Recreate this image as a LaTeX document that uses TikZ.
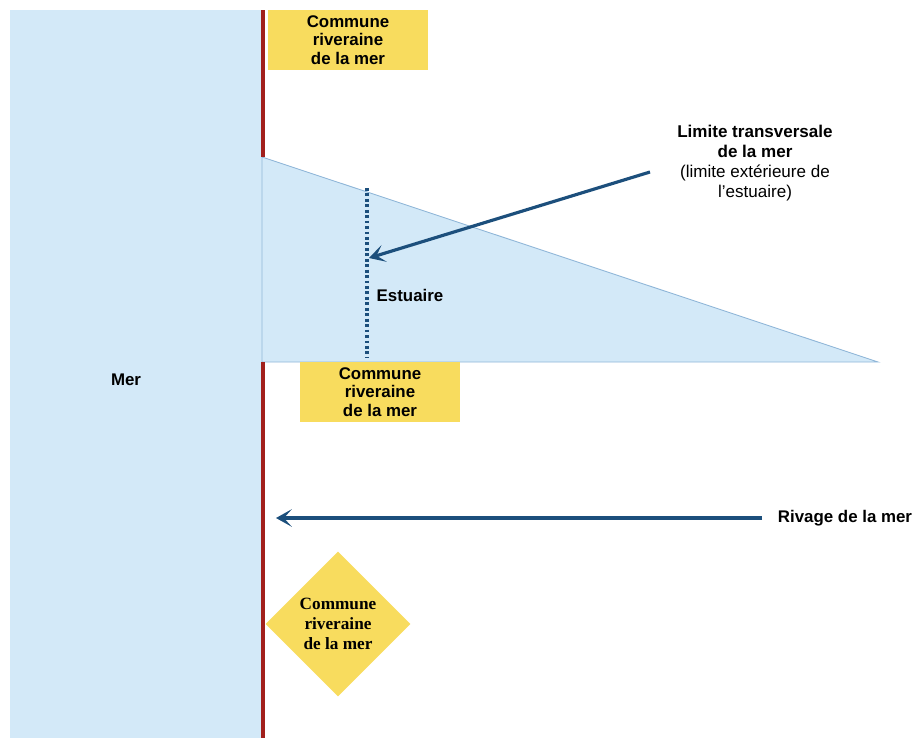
\documentclass[tikz,border=0pt]{standalone}
\usepackage{fontspec}
\setmainfont{Liberation Sans}
\newfontfamily\diamfont{Liberation Serif}
\usetikzlibrary{shapes.geometric,arrows.meta}
\definecolor{mer}{HTML}{D3E9F8}
\definecolor{bord}{HTML}{8FB6D8}
\definecolor{rive}{HTML}{A1201C}
\definecolor{jaune}{HTML}{F8DC5E}
\definecolor{fleche}{HTML}{1C4F7C}

\begin{document}
\begin{tikzpicture}
[x=0.02cm,y=-0.02cm]
\tikzset{box/.style={fill=jaune,align=center,inner sep=0,minimum width=3.2cm,minimum height=1.2cm,font=\bfseries\fontsize{9.6}{10.5}\selectfont}}
\tikzset{diam/.style={diamond,fill=jaune,align=center,inner sep=0,minimum width=2.9cm,minimum height=2.9cm,font=\diamfont\bfseries\fontsize{9.8}{11.3}\selectfont}}
\tikzset{lbl/.style={align=center,font=\fontsize{9.7}{11.4}\selectfont}}
\tikzset{fl/.style={fleche,line width=1.8pt,-{Stealth[length=9pt,width=10pt,inset=4.5pt]}}}
\useasboundingbox (0,0) rectangle (917,738);

% mer et estuaire
\fill [mer] (10,10) rectangle (262,738);
\filldraw [fill=mer,draw=bord,line width=0.5pt] (262,157) -- (878,362) -- (262,362) -- cycle;

% rivage
\draw [rive,line width=2.3pt] (263,10) -- (263,157);
\draw [rive,line width=2.3pt] (263,362) -- (263,738);

% limite transversale
\coordinate (d1) at (367,188);
\coordinate (d2) at (367,358);
\coordinate (lim) at (369,258);
\draw [fleche,line width=2.2pt,dash pattern=on 1.6pt off 1.5pt] (d1) -- (d2);

\node [box] (c1) at (348,40) {Commune\\riveraine\\de la mer};
\node [box] (c2) at (380,392) {Commune\\riveraine\\de la mer};
\node [diam] (c3) at (338,624) {Commune\\riveraine\\de la mer};

\node [lbl,font=\bfseries\fontsize{9.6}{11}\selectfont] (m) at (126,380) {Mer};
\node [lbl,font=\bfseries\fontsize{9.6}{11}\selectfont] (e) at (410,295) {Estuaire};
\node [lbl] (l) at (755,163) {\textbf{Limite transversale}\\\textbf{de la mer}\\(limite extérieure de\\l’estuaire)};
\node [lbl,font=\bfseries\fontsize{9.6}{11}\selectfont] (r) at (845,518) {Rivage de la mer};

\coordinate (a1) at (650,172);
\coordinate (a2) at (762,518);
\coordinate (a3) at (276,518);
\draw [fl] (a1) -- (lim);
\draw [fl] (a2) -- (a3);

\end{tikzpicture}
\end{document}
